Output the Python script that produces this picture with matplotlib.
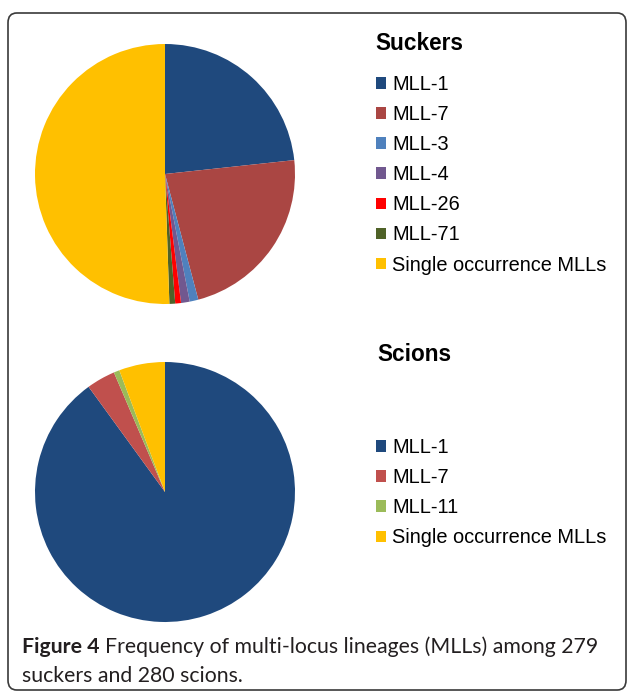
import matplotlib
matplotlib.use("Agg")
import matplotlib.pyplot as plt
from matplotlib.patches import FancyBboxPatch

# ---- data ----
suckers_labels = ["MLL-1", "MLL-7", "MLL-3", "MLL-4", "MLL-26", "MLL-71", "Single occurrence MLLs"]
suckers_counts = [65, 63, 3, 3, 2, 2, 141]
suckers_colors = ["#1F497D", "#AA4643", "#4F81BD", "#71588F", "#FF0000", "#4F6228", "#FFC000"]

scions_labels = ["MLL-1", "MLL-7", "MLL-11", "Single occurrence MLLs"]
scions_counts = [252, 10, 2, 16]
scions_colors = ["#1F497D", "#C0504D", "#9BBB59", "#FFC000"]

caption_bold = "Figure 4"
caption_line1 = "Frequency of multi-locus lineages (MLLs) among 279"
caption_line2 = "suckers and 280 scions."

W, H = 627, 692
fig = plt.figure(figsize=(W / 100, H / 100), dpi=100)
fig.patch.set_facecolor("white")

def fx(px):
    return px / W

def fy(py):
    return 1 - py / H

# border
border = FancyBboxPatch((fx(8), fy(690)), fx(626) - fx(8), fy(13) - fy(690),
                        boxstyle="round,pad=0,rounding_size=0.014",
                        transform=fig.transFigure, facecolor="none",
                        edgecolor="#3a3a3a", linewidth=1.2, clip_on=False)
fig.patches.append(border)

def add_pie(cx, cy, r, counts, colors):
    ax = fig.add_axes([fx(cx - r), fy(cy + r), fx(2 * r), (2 * r) / H])
    wedges, _ = ax.pie(counts, colors=colors, startangle=90, counterclock=False,
                       radius=1.0, wedgeprops=dict(linewidth=0))
    ax.set_xlim(-1, 1)
    ax.set_ylim(-1, 1)
    ax.set_aspect("auto")
    ax.axis("off")
    return wedges

w1 = add_pie(165, 174, 130, suckers_counts, suckers_colors)
w2 = add_pie(165, 492, 130, scions_counts, scions_colors)

legend_font = "Liberation Sans"

fig.text(fx(375), fy(43.5), "Suckers", fontsize=16.3, fontweight="bold",
         family=legend_font, va="center", ha="left", color="black")
fig.text(fx(377), fy(354.5), "Scions", fontsize=16.3, fontweight="bold",
         family=legend_font, va="center", ha="left", color="black")

leg_kw = dict(frameon=False, handlelength=0.5, handleheight=0.5,
              handletextpad=0.3, labelspacing=0.555, borderpad=0, borderaxespad=0,
              prop=dict(family=legend_font, size=14.4), loc="upper left")
fig.legend(w1, suckers_labels, bbox_to_anchor=(fx(376), fy(75)), **leg_kw)
fig.legend(w2, scions_labels, bbox_to_anchor=(fx(376), fy(438)), **leg_kw)

cap_font = "Lato"
cap_size = 15.3
t1 = fig.text(fx(22), fy(653), caption_bold, fontsize=cap_size, fontweight="bold",
              family=cap_font, color="#231F20", ha="left", va="baseline")
a = plt.annotate(caption_line1, xy=(1, 0), xycoords=t1, xytext=(4, 0),
                 textcoords="offset points", fontsize=cap_size, family=cap_font,
                 color="#231F20", ha="left", va="bottom",
                 annotation_clip=False)
fig.text(fx(22), fy(682), caption_line2, fontsize=cap_size, family=cap_font,
         color="#231F20", ha="left", va="baseline")

fig.savefig("out.png", dpi=100, facecolor="white")
